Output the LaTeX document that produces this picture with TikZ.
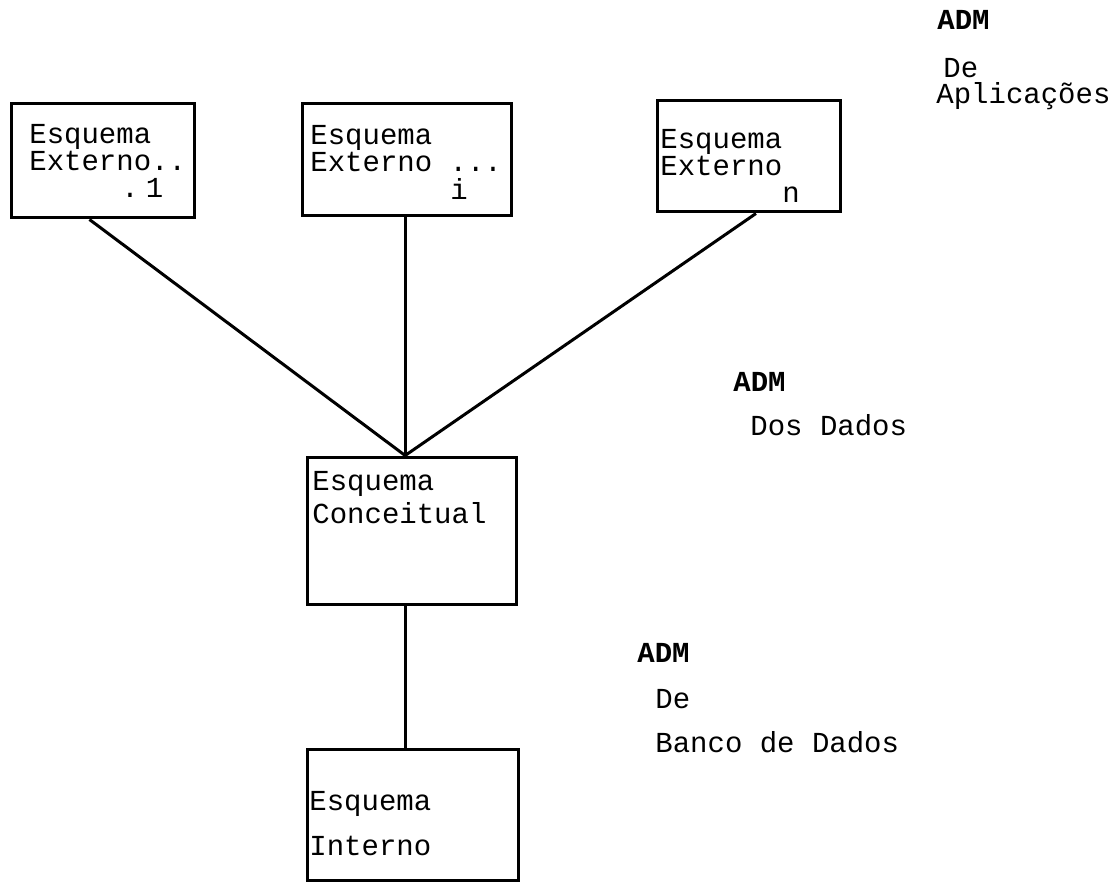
\documentclass[tikz,border=0pt]{standalone}
\usepackage{fontspec}
\newfontfamily\tw{Liberation Mono}
\usetikzlibrary{fit,calc}
\begin{document}
\begin{tikzpicture}[x=0.5pt,y=-0.5pt,
  box/.style={draw, line width=1.5pt, inner sep=0pt},
  conn/.style={line width=1.5pt},
  lbl/.style={anchor=base west, inner sep=0pt, font=\tw\fontsize{14.5pt}{17pt}\selectfont},
  adm/.style={anchor=base west, inner sep=0pt, font=\tw\bfseries\fontsize{14.5pt}{17pt}\selectfont}]
\useasboundingbox (0,0) rectangle (1113,882);

% boxes
\node[box, fit={(11,104) (194,218)}] (b1) {};
\node[box, fit={(302,104) (511,216)}] (b2) {};
\node[box, fit={(657,101) (840,212)}] (b3) {};
\node[box, fit={(307,457) (516,604)}] (cc) {};
\node[box, fit={(307,749) (518,880)}] (bi) {};

% texts in boxes
\node[lbl] (t1a) at (29,144) {Esquema};
\node[lbl] (t1b) at (29,171) {Externo..};
\node[lbl] (t1c) at (121,198) {.\kern3.5pt 1};
\node[lbl] (t2a) at (310,145) {Esquema};
\node[lbl] (t2b) at (310,172) {Externo ...};
\node[lbl] (t2c) at (450,200) {i};
\node[lbl] (t3a) at (660,149) {Esquema};
\node[lbl] (t3b) at (660,176) {Externo};
\node[lbl] (t3c) at (782,203) {n};
\node[lbl] (tca) at (312,490) {Esquema};
\node[lbl] (tcb) at (312,523) {Conceitual};
\node[lbl] (tia) at (309,810) {Esquema};
\node[lbl] (tib) at (309,855) {Interno};

% side labels
\node[adm] (a1) at (937,30) {ADM};
\node[lbl] (a1b) at (943,78) {De};
\node[lbl] (a1c) at (936,104) {Aplicações};
\node[adm] (a2) at (733,391) {ADM};
\node[lbl] (a2b) at (750,435) {Dos Dados};
\node[adm] (a3) at (637,662) {ADM};
\node[lbl] (a3b) at (655,708) {De};
\node[lbl] (a3c) at (655,752) {Banco de Dados};

% connectors
\coordinate (conv) at ($(cc.north west)!0.47!(cc.north east)$);
\coordinate (s1) at ($(b1.south west)!0.43!(b1.south east)$);
\coordinate (s3) at ($(b3.south west)!0.54!(b3.south east)$);
\draw[conn] (s1) -- (conv);
\draw[conn] (b2.south -| conv) -- (conv);
\draw[conn] (s3) -- (conv);
\draw[conn] (cc.south -| conv) -- (bi.north -| conv);
\end{tikzpicture}
\end{document}
